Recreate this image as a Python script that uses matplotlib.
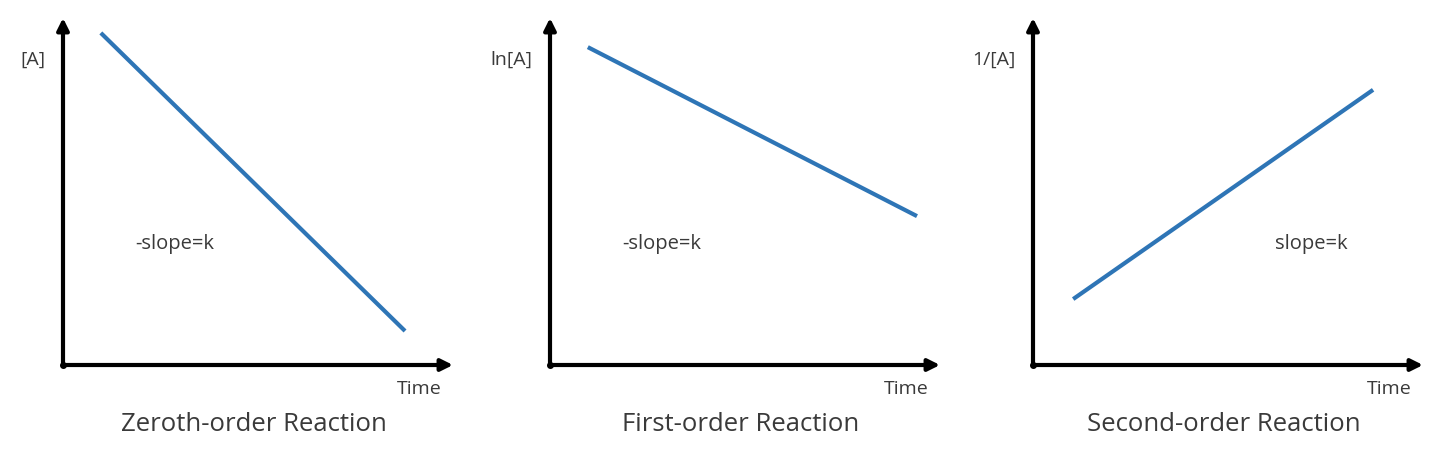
import matplotlib
matplotlib.use("Agg")
import matplotlib.pyplot as plt

plt.rcParams.update({
    "font.family": ["Open Sans", "DejaVu Sans"],
})

# ── Data ──────────────────────────────────────────────────────────────────────
TITLES   = ["Zeroth-order Reaction", "First-order Reaction", "Second-order Reaction"]
YLABELS  = ["[A]", "ln[A]", "1/[A]"]
SLOPES   = ["-slope=k", "-slope=k", "slope=k"]
LINE_X   = [[0.97, 8.77], [0.97, 9.41], [1.03, 8.72]]
LINE_Y   = [[9.57, 0.98], [9.16, 4.29], [1.90, 7.93]]
SLOPE_XY = [(1.85, 3.5), (1.85, 3.5), (6.2, 3.5)]

BLUE = "#2E75B6"
TXT  = "#3a3a3a"

W, H = 1440, 457
fig = plt.figure(figsize=(W / 100, H / 100), dpi=100)

# axes origins in pixels (left, bottom-y from top), each 390 x 347
LEFTS = [63, 550, 1033]
for i in range(3):
    ax = fig.add_axes([LEFTS[i] / W, (H - 365) / H, 390 / W, 347 / H])
    ax.set_xlim(0, 10)
    ax.set_ylim(0, 10)
    ax.axis("off")

    # axes arrows
    arrow = dict(arrowstyle="-|>,head_length=0.7,head_width=0.35", color="black",
                 lw=3, shrinkA=0, shrinkB=0, capstyle="round")
    ax.annotate("", xy=(0, 1), xytext=(0, 0), xycoords="axes fraction",
                arrowprops=arrow, annotation_clip=False)
    ax.annotate("", xy=(1, 0), xytext=(0, 0), xycoords="axes fraction",
                arrowprops=arrow, annotation_clip=False)
    ax.plot([0], [0], "o", color="black", ms=4, clip_on=False)

    ax.plot(LINE_X[i], LINE_Y[i], color=BLUE, lw=3, solid_capstyle="butt")

    ax.text(-0.045, 0.88, YLABELS[i], transform=ax.transAxes, ha="right", va="center",
            fontsize=14, color=TXT)
    ax.text(*SLOPE_XY[i], SLOPES[i], ha="left", va="center", fontsize=14.5, color=TXT)
    ax.text(0.97, -0.07, "Time", transform=ax.transAxes, ha="right", va="center",
            fontsize=14, color=TXT)
    ax.text(0.49, -0.172, TITLES[i], transform=ax.transAxes, ha="center", va="center",
            fontsize=18.5, color=TXT)

fig.savefig("out.png", dpi=100)
plt.close(fig)
